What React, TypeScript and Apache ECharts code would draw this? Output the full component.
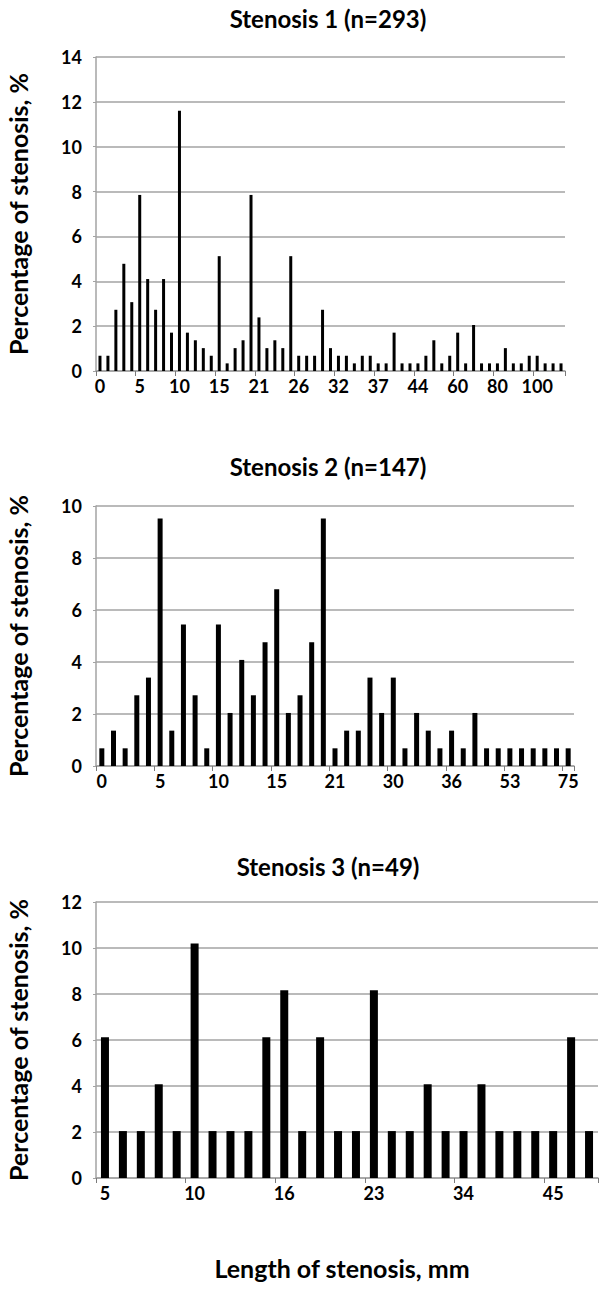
import React, { useEffect, useRef } from "react";
import * as echarts from "echarts";

// Stenosis 1 (n=293): length categories (mm) and percentage of stenoses
const cat1 = [
  "0", "1", "2", "3", "4", "5", "6", "7", "8", "9", "10", "11", "12", "13", "14", "15",
  "16", "17", "18", "20", "21", "22", "23", "24", "25", "26", "27", "28", "29", "30",
  "32", "33", "34", "35", "36", "37", "38", "39", "40", "42", "44", "45", "48", "50", "55",
  "60", "62", "65", "70", "75", "80", "85", "90", "95", "98", "100", "110", "120", "150",
];
const val1 = [
  0.68, 0.68, 2.73, 4.78, 3.07, 7.85, 4.1, 2.73, 4.1, 1.71, 11.6, 1.71, 1.37, 1.02, 0.68, 5.12,
  0.34, 1.02, 1.37, 7.85, 2.39, 1.02, 1.37, 1.02, 5.12, 0.68, 0.68, 0.68, 2.73, 1.02,
  0.68, 0.68, 0.34, 0.68, 0.68, 0.34, 0.34, 1.71, 0.34, 0.34, 0.34, 0.68, 1.37, 0.34, 0.68,
  1.71, 0.34, 2.05, 0.34, 0.34, 0.34, 1.02, 0.34, 0.34, 0.68, 0.68, 0.34, 0.34, 0.34,
];

// Stenosis 2 (n=147)
const cat2 = [
  "0", "1", "2", "3", "4", "5", "6", "7", "8", "9", "10", "11", "12", "13", "14", "15",
  "16", "17", "18", "20", "21", "22", "23", "25", "28", "30", "31", "32", "33", "35",
  "36", "38", "40", "45", "50", "53", "55", "60", "65", "70", "75",
];
const val2 = [
  0.68, 1.36, 0.68, 2.72, 3.4, 9.52, 1.36, 5.44, 2.72, 0.68, 5.44, 2.04, 4.08, 2.72, 4.76, 6.8,
  2.04, 2.72, 4.76, 9.52, 0.68, 1.36, 1.36, 3.4, 2.04, 3.4, 0.68, 2.04, 1.36, 0.68,
  1.36, 0.68, 2.04, 0.68, 0.68, 0.68, 0.68, 0.68, 0.68, 0.68, 0.68,
];

// Stenosis 3 (n=49)
const cat3 = [
  "5", "6", "7", "8", "9", "10", "11", "12", "13", "15", "16", "17", "18", "19", "20",
  "23", "24", "25", "28", "30", "34", "35", "38", "40", "42", "45", "48", "50",
];
const val3 = [
  6.12, 2.04, 2.04, 4.08, 2.04, 10.2, 2.04, 2.04, 2.04, 6.12, 8.16, 2.04, 6.12, 2.04, 2.04,
  8.16, 2.04, 2.04, 4.08, 2.04, 2.04, 4.08, 2.04, 2.04, 2.04, 2.04, 6.12, 2.04,
];

const titles = ["Stenosis 1 (n=293)", "Stenosis 2 (n=147)", "Stenosis 3 (n=49)"];
const yName = "Percentage of stenosis, %";
const xName = "Length of stenosis, mm";
const yMax = [14, 10, 12];

const FONT = "Lato, 'Open Sans', sans-serif";
const GRID_COLOR = "#a3a3a3";

export default function App() {
  const ref = useRef<HTMLDivElement>(null);

  useEffect(() => {
    if (!ref.current) return;
    const chart = echarts.init(ref.current, undefined, { renderer: "svg" });

    const grids = [
      { left: 96, top: 57, width: 469, height: 314 },
      { left: 96, top: 506, width: 478, height: 260 },
      { left: 96, top: 902, width: 502, height: 276 },
    ];
    const cats = [cat1, cat2, cat3];
    const vals = [val1, val2, val3];
    const barWidths = [3, 5, 8];
    const titleY = [18, 466, 866];

    const xAxes = cats.map((c, i) => ({
      type: "category",
      gridIndex: i,
      data: c,
      boundaryGap: true,
      axisLine: { show: true, lineStyle: { color: GRID_COLOR, width: 1.5 } },
      axisTick: { show: true, interval: 4, length: 5, lineStyle: { color: "#7a7a7a", width: 1 } },
      axisLabel: {
        interval: 4,
        margin: 6,
        color: "#000",
        fontSize: 18,
        fontWeight: "bold",
        fontFamily: FONT,
      },
      splitLine: { show: false },
    }));

    const yAxes = yMax.map((m, i) => ({
      type: "value",
      gridIndex: i,
      min: 0,
      max: m,
      interval: 2,
      axisLine: { show: true, lineStyle: { color: GRID_COLOR, width: 1.5 } },
      axisTick: { show: true, length: 3, lineStyle: { color: GRID_COLOR } },
      axisLabel: {
        margin: 14,
        color: "#000",
        fontSize: 18,
        fontWeight: "bold",
        fontFamily: FONT,
      },
      splitLine: { show: true, lineStyle: { color: GRID_COLOR, width: 1.5 } },
    }));

    const series = vals.map((v, i) => ({
      type: "bar",
      xAxisIndex: i,
      yAxisIndex: i,
      data: v,
      barWidth: barWidths[i],
      itemStyle: { color: "#000" },
      silent: true,
    }));

    const graphic: any[] = [];
    titles.forEach((t, i) => {
      graphic.push({
        type: "text",
        x: 328,
        y: titleY[i],
        style: {
          text: t,
          align: "center",
          verticalAlign: "middle",
          fill: "#000",
          font: `bold 24px ${FONT}`,
        },
      });
      const g = grids[i];
      graphic.push({
        type: "text",
        x: 18,
        y: g.top + g.height / 2,
        rotation: Math.PI / 2,
        style: {
          text: yName,
          align: "center",
          verticalAlign: "middle",
          fill: "#000",
          font: `bold 25px ${FONT}`,
        },
      });
    });
    graphic.push({
      type: "text",
      x: 342,
      y: 1268,
      style: {
        text: xName,
        align: "center",
        verticalAlign: "middle",
        fill: "#000",
        font: `bold 25px ${FONT}`,
      },
    });

    chart.setOption({
      animation: false,
      backgroundColor: "#fff",
      grid: grids,
      xAxis: xAxes,
      yAxis: yAxes,
      series,
      graphic,
    } as any);

    return () => chart.dispose();
  }, []);

  return (
    <div
      ref={ref}
      style={{ position: "absolute", left: 0, top: 0, width: 602, height: 1299, background: "#fff" }}
    />
  );
}
